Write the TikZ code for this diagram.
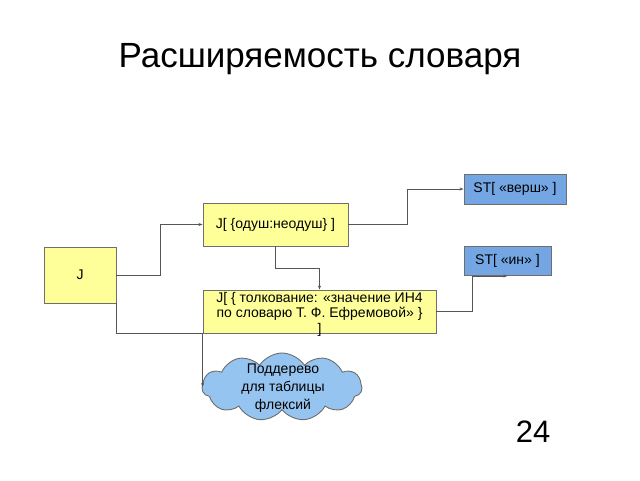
\documentclass[tikz,border=0pt]{standalone}
\usepackage{fontspec}
\setmainfont{Liberation Sans}
\usetikzlibrary{shapes.symbols,arrows.meta}
\definecolor{boxyellow}{RGB}{255,255,153}
\definecolor{boxblue}{RGB}{116,166,228}
\definecolor{cloudblue}{RGB}{150,196,240}
\definecolor{edgegray}{RGB}{110,110,110}
\definecolor{linegray}{RGB}{85,85,85}
\tikzset{
  ybox/.style={draw=edgegray, line width=0.9pt, fill=boxyellow, inner sep=0pt, font=\fontsize{14}{16}\selectfont},
  bbox/.style={draw=edgegray, line width=0.9pt, fill=boxblue, inner sep=0pt, font=\fontsize{14}{16}\selectfont},
  conn/.style={draw=linegray, line width=0.9pt, -{Stealth[length=4pt,width=3pt]}},
  cloudnode/.style={cloud, cloud puffs=11, cloud puff arc=115, aspect=2.4, draw=edgegray, line width=0.9pt, fill=cloudblue, inner sep=0pt, font=\fontsize{14}{17}\selectfont, align=center}
}
\begin{document}
\begin{tikzpicture}[x=1pt,y=-1pt]
\useasboundingbox (0,0) rectangle (640,480);
\node[font=\fontsize{35}{40}\selectfont] (title) at (320,59) {Расширяемость словаря};
\node[ybox, minimum width=72pt, minimum height=56pt] (J) at (80,275) {J};
\node[ybox, minimum width=145pt, minimum height=43pt] (jo) at (275.5,224.5) {J[ \{одуш:неодуш\} ]};
\node[bbox, minimum width=102pt, minimum height=30pt] (sv) at (515,189) {ST[ «верш» ]};
\node[bbox, minimum width=87pt, minimum height=29pt] (si) at (507.5,261) {ST[ «ин» ]};
\node[ybox, minimum width=233pt, minimum height=43pt] (bb) at (319.5,311.5) {};
\node[font=\fontsize{14}{15.5}\selectfont, align=center, inner sep=0pt] (bbt) at (319.5,314) {J[ \{ толкование: «значение ИН4\\по словарю Т. Ф. Ефремовой» \}\\]};
\node[cloudnode, minimum width=160pt, minimum height=68pt] (cl) at (282,387) {};
\node[font=\fontsize{14}{18}\selectfont, align=center, inner sep=0pt] (clt) at (283,388) {Поддерево\\для таблицы\\флексий};
\node[font=\fontsize{31}{34}\selectfont] (num) at (533,432) {24};
\draw[conn] (J.east) -- ++(44,0) |- (jo.west);
\draw[conn] (jo.east) -- ++(59,0) |- (sv.west);
\draw[conn] (jo.south) -- ++(0,22) -| (bb.north);
\draw[conn] (J.south east) |- (bb.south west) -- (bb.south west |- cl.west);
\draw[conn] (bb.east) -- ++(36,0) |- (si.south);
\end{tikzpicture}
\end{document}
